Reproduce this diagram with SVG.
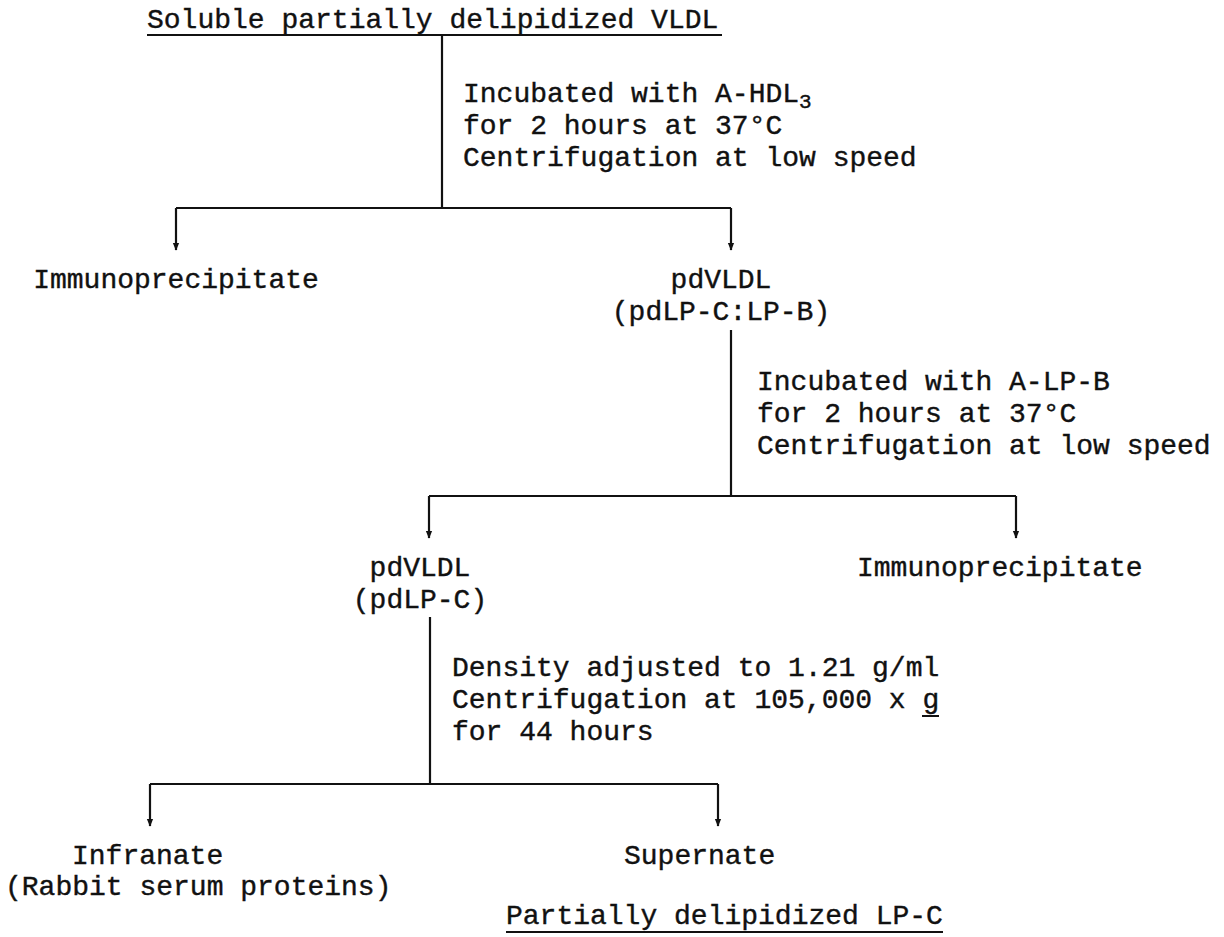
<svg xmlns="http://www.w3.org/2000/svg" width="1224" height="937" viewBox="0 0 1224 937">
  <defs>
    <style>
      .t { font-family: "Liberation Mono", "DejaVu Sans Mono", monospace; font-size: 28px; fill: #111; stroke: #111; stroke-width: 0.4px; }
      .c { text-anchor: middle; }
      .ln { stroke: #111; stroke-width: 2.2; fill: none; }
      .ul { stroke: #111; stroke-width: 2; }
    </style>
    <marker id="ah" viewBox="0 0 10 10" refX="9" refY="5" markerWidth="8" markerHeight="8" markerUnits="userSpaceOnUse" orient="auto">
      <path d="M0,1 L10,5 L0,9 Z" fill="#111"/>
    </marker>
  </defs>
  <rect width="1224" height="937" fill="#fff"/>

  <!-- branching connectors, one bracket per separation step -->
  <g id="connectors">
    <line class="ln" x1="442" y1="36" x2="442" y2="208"/>
    <line class="ln" x1="176" y1="208" x2="731" y2="208"/>
    <line class="ln" x1="176" y1="208" x2="176" y2="250" marker-end="url(#ah)"/>
    <line class="ln" x1="731" y1="208" x2="731" y2="250" marker-end="url(#ah)"/>

    <line class="ln" x1="731" y1="330" x2="731" y2="496"/>
    <line class="ln" x1="429" y1="496" x2="1016" y2="496"/>
    <line class="ln" x1="429" y1="496" x2="429" y2="538" marker-end="url(#ah)"/>
    <line class="ln" x1="1016" y1="496" x2="1016" y2="538" marker-end="url(#ah)"/>

    <line class="ln" x1="430" y1="617" x2="430" y2="784"/>
    <line class="ln" x1="150" y1="784" x2="718" y2="784"/>
    <line class="ln" x1="150" y1="784" x2="150" y2="826" marker-end="url(#ah)"/>
    <line class="ln" x1="718" y1="784" x2="718" y2="826" marker-end="url(#ah)"/>
  </g>

  <!-- starting material -->
  <g id="source">
    <text class="t" x="147" y="28">Soluble partially delipidized VLDL</text>
    <line class="ul" x1="147" y1="35" x2="722" y2="35"/>
  </g>

  <g id="step1">
    <text class="t" x="463" y="102">Incubated with A-HDL<tspan font-size="21" dy="6">3</tspan></text>
    <text class="t" x="463" y="134">for 2 hours at 37°C</text>
    <text class="t" x="463" y="166">Centrifugation at low speed</text>
  </g>

  <g id="immuno1">
    <text class="t c" x="176" y="288">Immunoprecipitate</text>
  </g>

  <g id="pdvldl1">
    <text class="t c" x="721" y="288">pdVLDL</text>
    <text class="t c" x="721" y="320">(pdLP-C:LP-B)</text>
  </g>

  <g id="step2">
    <text class="t" x="757" y="390">Incubated with A-LP-B</text>
    <text class="t" x="757" y="422">for 2 hours at 37°C</text>
    <text class="t" x="757" y="454">Centrifugation at low speed</text>
  </g>

  <g id="pdvldl2">
    <text class="t c" x="420" y="576">pdVLDL</text>
    <text class="t c" x="420" y="608">(pdLP-C)</text>
  </g>

  <g id="immuno2">
    <text class="t" x="857" y="576">Immunoprecipitate</text>
  </g>

  <g id="step3">
    <text class="t" x="452" y="676">Density adjusted to 1.21 g/ml</text>
    <text class="t" x="452" y="708">Centrifugation at 105,000 x g</text>
    <line class="ul" x1="922" y1="716" x2="939" y2="716"/>
    <text class="t" x="452" y="740">for 44 hours</text>
  </g>

  <g id="infranate">
    <text class="t" x="72" y="864">Infranate</text>
    <text class="t" x="5" y="895">(Rabbit serum proteins)</text>
  </g>

  <g id="supernate">
    <text class="t" x="624" y="864">Supernate</text>
  </g>

  <!-- final product -->
  <g id="product">
    <text class="t" x="506" y="924">Partially delipidized LP-C</text>
    <line class="ul" x1="506" y1="932" x2="943" y2="932"/>
  </g>
</svg>
